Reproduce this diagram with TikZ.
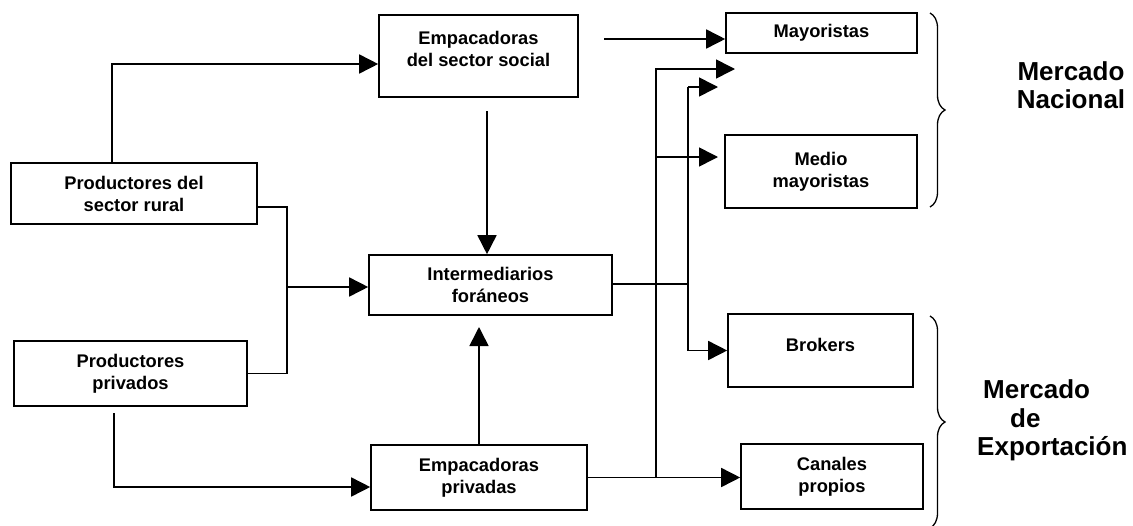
\documentclass[tikz,border=0pt]{standalone}
\usepackage{fontspec}
\setmainfont{Liberation Sans}
\usetikzlibrary{arrows.meta,decorations.pathreplacing}
\begin{document}
\begin{tikzpicture}[x=1pt,y=-1pt,
  box/.style={draw,line width=1.6pt,inner sep=0pt,align=center,
    font=\bfseries\fontsize{18.3}{22}\selectfont},
  link/.style={line width=1.6pt},
  arr/.style={line width=1.6pt,-{Triangle[length=19pt,width=19pt]}},
  brc/.style={line width=1.3pt,decorate,decoration={brace,amplitude=15pt}},
  mkt/.style={inner sep=0pt,font=\bfseries\fontsize{26}{28.5}\selectfont}]
\useasboundingbox (0,0) rectangle (1133,525);
% boxes
\node[box,minimum width=199pt,minimum height=82pt] (social) at (478.5,56)
  {Empacadoras\\del sector social\\[-7pt]\mbox{}};
\node[box,minimum width=246pt,minimum height=61pt] (rural) at (134,193.5)
  {Productores del\\sector rural};
\node[box,minimum width=233pt,minimum height=65pt] (privados) at (130.5,373.5)
  {Productores\\privados};
\node[box,minimum width=243pt,minimum height=60pt] (inter) at (490.5,285)
  {Intermediarios\\for\'aneos};
\node[box,minimum width=216pt,minimum height=65pt] (empriv) at (479,477.5)
  {Empacadoras\\privadas};
\node[box,minimum width=191pt,minimum height=40pt] (mayor) at (821.5,33)
  {Mayoristas};
\node[box,minimum width=192pt,minimum height=73pt] (medio) at (821,171.5)
  {Medio\\mayoristas};
\node[box,minimum width=185pt,minimum height=73pt] (brokers) at (820.5,350.5)
  {Brokers\\[-10pt]\mbox{}};
\node[box,minimum width=182pt,minimum height=65pt] (canales) at (832,476.5)
  {Canales\\propios};
% market labels
\node[mkt,align=center] (nac) at (1071,85) {Mercado\\Nacional};
\node[mkt,align=left,anchor=west] (exp) at (977,420.5)
  {\hspace*{6pt}Mercado\\\hspace*{33pt}de\\Exportaci\'on};
% coordinates for free ends
\coordinate (p1) at (114,413);
\coordinate (s1) at (487,111);
\coordinate (u1) at (479,327);
\coordinate (j1) at (287,287);
\coordinate (c1) at (689,284);
\coordinate (k1) at (656,477.5);
\coordinate (m2) at (735,69);
\coordinate (m3) at (718,157);
\coordinate (k2) at (688,87);
\coordinate (m4) at (718,87);
\coordinate (t1) at (604,39);
% connectors
\draw[arr] ([xshift=-22pt]rural.north) |- ([yshift=-8pt]social.west);
\draw[arr] (p1) |- ([yshift=-9.5pt]empriv.west);
\draw[link] ([yshift=-13.5pt]rural.east) -| (j1) |- (privados.east);
\draw[arr] (j1) -- (j1 -| inter.west);
\draw[arr] (s1) -- (s1 |- inter.north);
\draw[arr] (empriv.north) -- (u1);
\draw[link] ([yshift=1pt]inter.east) -- (c1);
\draw[arr] (empriv.east) -- (empriv.east -| canales.west);
\draw[arr] (k1) |- (m2);
\draw[arr] (k1 |- m3) -- (m3);
\draw[arr] (k2) -- (m4);
\draw[arr] (k2) |- (brokers.west);
\draw[arr] (t1) -- (t1 -| mayor.west);
% braces
\draw[brc] (930,13) -- (930,207);
\draw[brc] (930,316) -- (930,528);
\end{tikzpicture}
\end{document}
